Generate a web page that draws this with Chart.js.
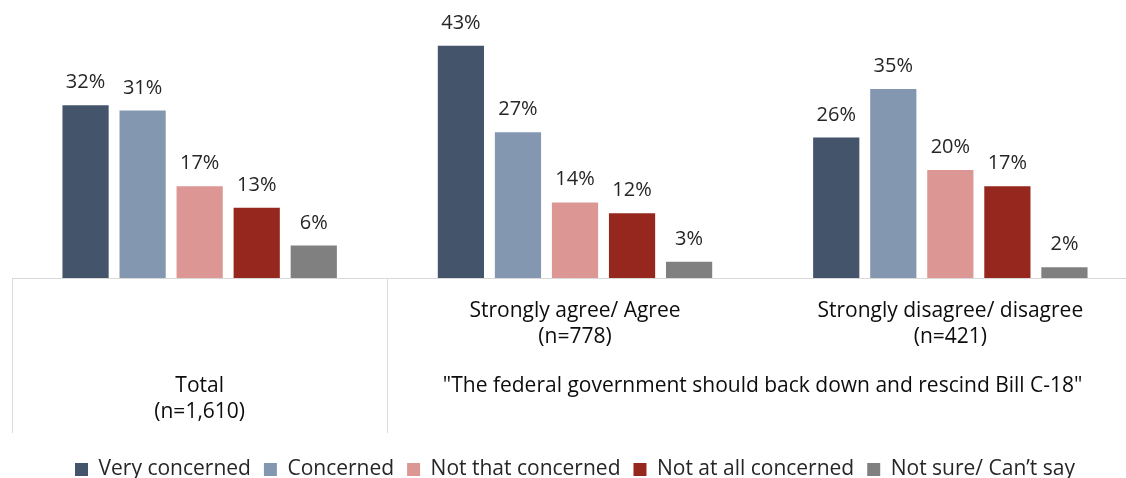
<!DOCTYPE html>
<html>
<head>
<meta charset="utf-8">
<script src="https://cdn.jsdelivr.net/npm/chart.js@4"></script>
<style>
  html, body { margin: 0; padding: 0; background: #fff; overflow: hidden; }
  #wrap { width: 1138px; height: 490px; }
</style>
</head>
<body>
<div id="wrap"><canvas id="grafico"></canvas></div>
<script>
const categorias = [
    ["Total", "(n=1,610)"],
    ["Strongly agree/ Agree", "(n=778)"],
    ["Strongly disagree/ disagree", "(n=421)"]
];
const grupoPergunta = '"The federal government should back down and rescind Bill C-18"';

const series = ["Very concerned", "Concerned", "Not that concerned", "Not at all concerned", "Not sure/ Can\u2019t say"];
const muitoPreocupado =  [32, 43, 26];
const preocupado =       [31, 27, 35];
const poucoPreocupado =  [17, 14, 20];
const nadaPreocupado =   [13, 12, 17];
const naoSabe =          [6,  3,  2];

const cores = ["#44546A", "#8497B0", "#DC9795", "#95271F", "#808080"];
const FONTE = "'Open Sans', 'Liberation Sans', sans-serif";

const valores = [muitoPreocupado, preocupado, poucoPreocupado, nadaPreocupado, naoSabe];

// rótulos de valor acima das barras
const rotulos = {
    id: "rotulos",
    afterDatasetsDraw(chart) {
        const ctx = chart.ctx;
        ctx.save();
        ctx.font = "20px " + FONTE;
        ctx.fillStyle = "#262626";
        ctx.textAlign = "center";
        ctx.textBaseline = "alphabetic";
        chart.data.datasets.forEach((ds, i) => {
            chart.getDatasetMeta(i).data.forEach((bar, j) => {
                ctx.fillText(ds.data[j] + "%", bar.x, bar.y - 17);
            });
        });
        ctx.restore();
    }
};

// eixo x em forma de tabela
const eixoTabela = {
    id: "eixoTabela",
    afterDraw(chart) {
        const ctx = chart.ctx;
        const area = chart.chartArea;
        const x = chart.scales.x;
        const base = area.bottom;
        const fim = base + 155;
        const divisa = (x.getPixelForValue(0) + x.getPixelForValue(1)) / 2;
        ctx.save();
        ctx.strokeStyle = "#D9D9D9";
        ctx.lineWidth = 1;
        ctx.beginPath();
        ctx.moveTo(area.left + 0.5, base);
        ctx.lineTo(area.left + 0.5, fim);
        ctx.moveTo(Math.round(divisa) + 0.5, base);
        ctx.lineTo(Math.round(divisa) + 0.5, fim);
        ctx.stroke();

        ctx.font = "21px " + FONTE;
        ctx.fillStyle = "#0d0d0d";
        ctx.textAlign = "center";
        ctx.textBaseline = "middle";
        categorias.forEach((linhas, i) => {
            const cx = x.getPixelForValue(i);
            const y0 = i === 0 ? base + 108 : base + 33;
            linhas.forEach((t, k) => ctx.fillText(t, cx, y0 + k * 26));
        });
        const qx = (x.getPixelForValue(1) + x.getPixelForValue(2)) / 2;
        ctx.fillText(grupoPergunta, qx, base + 108);
        ctx.restore();
    }
};

new Chart(document.getElementById("grafico"), {
    type: "bar",
    data: {
        labels: categorias.map(c => c.join(" ")),
        datasets: series.map((nome, i) => ({
            label: nome,
            data: valores[i],
            backgroundColor: cores[i],
            categoryPercentage: 0.76,
            barPercentage: 0.81
        }))
    },
    options: {
        responsive: true,
        maintainAspectRatio: false,
        animation: false,
        layout: { padding: { left: 12, right: 0, top: 8, bottom: 0 } },
        plugins: {
            tooltip: { enabled: false },
            legend: {
                position: "bottom",
                labels: {
                    color: "#262626",
                    font: { size: 21, family: FONTE },
                    boxWidth: 13,
                    boxHeight: 13,
                    padding: 13
                }
            }
        },
        scales: {
            x: {
                grid: { display: false },
                border: { color: "#D9D9D9" },
                ticks: { display: false },
                afterFit(scale) { scale.height = 168; }
            },
            y: {
                display: false,
                min: 0,
                max: 50
            }
        }
    },
    plugins: [rotulos, eixoTabela]
});
</script>
</body>
</html>
